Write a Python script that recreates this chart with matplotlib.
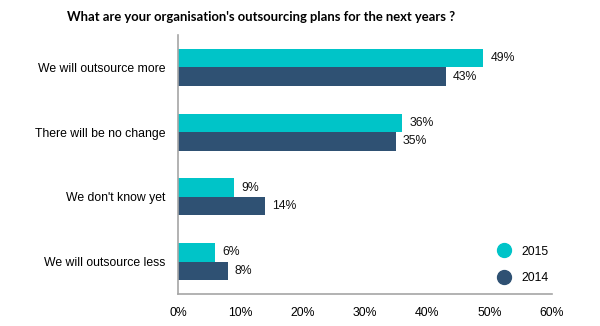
import matplotlib
matplotlib.use("Agg")
import matplotlib.pyplot as plt
import numpy as np
from matplotlib.lines import Line2D

categories = ["We will outsource more", "There will be no change",
              "We don't know yet", "We will outsource less"]
values_2015 = [49, 36, 9, 6]
values_2014 = [43, 35, 14, 8]
series_labels = ["2015", "2014"]
x_ticks = [0, 10, 20, 30, 40, 50, 60]

c2015 = "#00C4C8"
c2014 = "#2F5173"

W, H = 600, 326
fig = plt.figure(figsize=(W / 100, H / 100), dpi=100)
ax = fig.add_axes([178 / W, 1 - 294 / H, (552 - 178) / W, (294 - 35) / H])

font = "Liberation Sans"
fs = 8.8
y = np.arange(len(categories))
bh = 0.285
ax.barh(y - bh / 2, values_2015, height=bh, color=c2015)
ax.barh(y + bh / 2, values_2014, height=bh, color=c2014)

for yi, v in zip(y, values_2015):
    ax.text(v + 1.1, yi - bh / 2, f"{v}%", va="center", ha="left",
            fontsize=fs, family=font, color="#111111")
for yi, v in zip(y, values_2014):
    ax.text(v + 1.1, yi + bh / 2, f"{v}%", va="center", ha="left",
            fontsize=fs, family=font, color="#111111")

ax.set_ylim(len(categories) - 0.5, -0.5)
ax.set_xlim(0, 60)
ax.set_yticks(y)
ax.set_yticklabels(categories, family=font, fontsize=fs)
ax.set_xticks(x_ticks)
ax.set_xticklabels([f"{t}%" for t in x_ticks], family=font, fontsize=fs)
ax.tick_params(length=0)
ax.tick_params(axis="y", pad=9)
ax.tick_params(axis="x", pad=9)
for s in ["top", "right"]:
    ax.spines[s].set_visible(False)
for s in ["left", "bottom"]:
    ax.spines[s].set_color("#A6A6A6")
    ax.spines[s].set_linewidth(1.2)

handles = [Line2D([], [], marker="o", linestyle="none", markersize=10,
                  markerfacecolor=c, markeredgecolor=c)
           for c in (c2015, c2014)]
leg = ax.legend(handles, series_labels, loc="lower right",
                bbox_to_anchor=(1.02, -0.005), frameon=False,
                prop={"family": font, "size": fs},
                handletextpad=0.4, labelspacing=1.2)

fig.text(261 / W, 1 - 17 / H, "What are your organisation's outsourcing plans for the next years ?",
         ha="center", va="center", fontsize=9.4, fontweight="bold", family="Lato")

fig.savefig("out.png", dpi=100, facecolor="white")
